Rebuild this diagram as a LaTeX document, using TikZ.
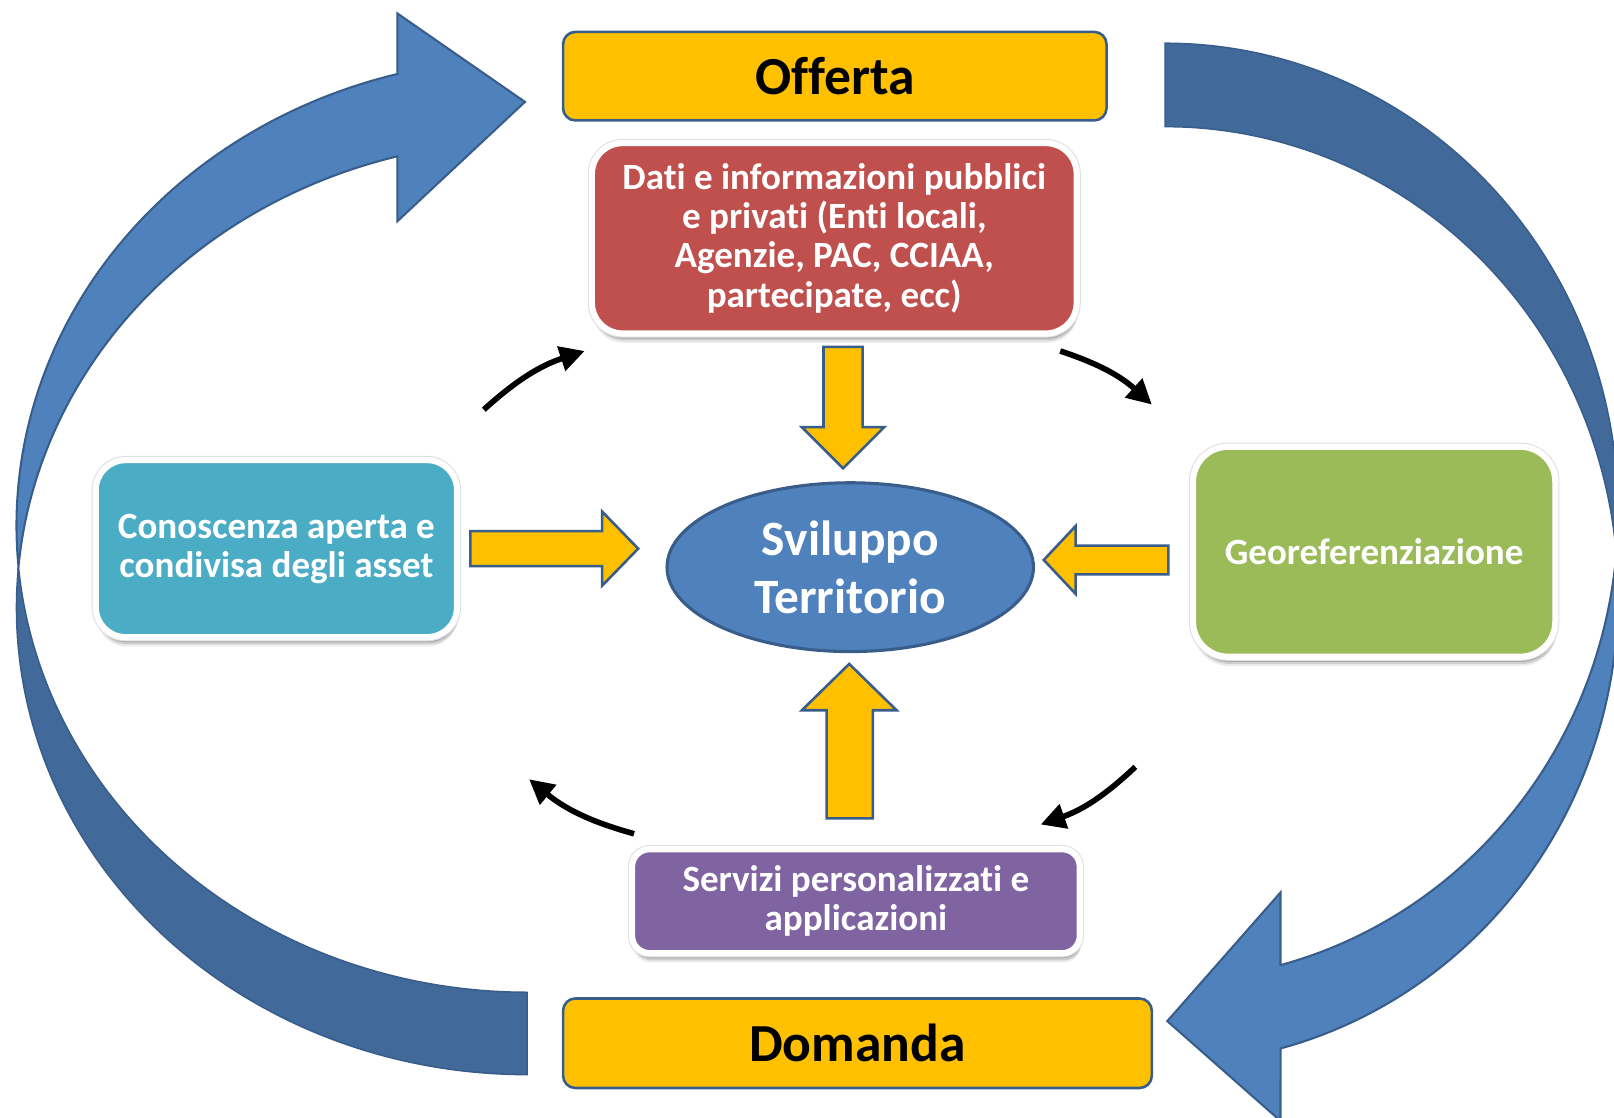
\documentclass[tikz,border=0pt]{standalone}
\usepackage{fontspec}
\setmainfont{Carlito}[Ligatures=NoCommon]
\usetikzlibrary{arrows.meta,shadows,shapes.geometric}
\definecolor{amber}{HTML}{FFC000}
\definecolor{bord}{HTML}{385D8A}
\definecolor{lightblue}{HTML}{4F81BD}
\definecolor{darkblue}{HTML}{41699A}
\definecolor{redbox}{HTML}{C0504D}
\definecolor{tealbox}{HTML}{4BACC6}
\definecolor{greenbox}{HTML}{9BBB59}
\definecolor{purplebox}{HTML}{8064A2}
\tikzset{
  titlebox/.style={draw=bord, line width=2.5pt, fill=amber, inner sep=0pt,
    font=\fontsize{52}{56}\selectfont\bfseries, text=black},
  softshadow/.style={
    drop shadow={shadow xshift=1pt, shadow yshift=-9pt, opacity=0.08, fill=black},
    drop shadow={shadow xshift=1.5pt, shadow yshift=-7pt, opacity=0.12, fill=black},
    drop shadow={shadow xshift=1pt, shadow yshift=-5pt, opacity=0.18, fill=black}},
  infobox/.style={draw=white, line width=6pt, inner sep=0pt, align=center, text=white,
    font=\fontsize{36}{38}\selectfont\bfseries, softshadow,
    preaction={draw=black!13, line width=8pt}},
  blockarrow/.style={fill=amber, draw=bord, line width=2.5pt},
  cyclearrow/.style={line width=5.5pt, -{Triangle[length=24pt,width=24pt]}},
  bandlight/.style={fill=lightblue, draw=bord, line width=2pt},
  banddark/.style={fill=darkblue, draw=bord, line width=1.5pt},
}
\begin{document}
\begin{tikzpicture}[x=1pt,y=-1pt]
\useasboundingbox (0,0) rectangle (1568,1086);
\clip (0,0) rectangle (1568,1086);

% ---- left big curved arrow (tail at bottom, head at top) ----
\path[banddark]
  plot[domain=90:185.06, samples=120, variable=\t] ({512+496*cos(\t)},{590.5+453.5*sin(\t)})
  -- plot[domain=174.94:90, samples=120, variable=\t] ({512+496*cos(\t)},{510.5+453.5*sin(\t)})
  -- cycle;
\path[bandlight]
  plot[domain=174.94:255.29, samples=120, variable=\t] ({512+496*cos(\t)},{510.5+453.5*sin(\t)})
  -- (386,13) -- (510,99) -- (386,215)
  -- plot[domain=255.29:185.06, samples=120, variable=\t] ({512+496*cos(\t)},{590.5+453.5*sin(\t)})
  -- cycle;

% ---- right big curved arrow (tail at top, head at bottom) ----
\path[banddark]
  plot[domain=-90:5.10, samples=120, variable=\t] ({1132+440*cos(\t)},{497.3+455.3*sin(\t)})
  -- plot[domain=-5.10:-90, samples=120, variable=\t] ({1132+440*cos(\t)},{578.3+455.3*sin(\t)})
  -- cycle;
\path[bandlight]
  plot[domain=-5.10:75.25, samples=120, variable=\t] ({1132+440*cos(\t)},{578.3+455.3*sin(\t)})
  -- (1244,1089) -- (1134,992) -- (1244,867)
  -- plot[domain=75.25:5.10, samples=120, variable=\t] ({1132+440*cos(\t)},{497.3+455.3*sin(\t)})
  -- cycle;

% ---- title boxes ----
\node[titlebox, minimum width=528pt, minimum height=86pt, rounded corners=12pt] (offerta) at (811,74) {Offerta};
\node[titlebox, minimum width=572pt, minimum height=87pt, rounded corners=12pt] (domanda) at (833,1013.5) {Domanda};

% ---- info boxes ----
\node[infobox, fill=redbox, minimum width=471pt, minimum height=185pt, rounded corners=30pt] (dati) at (810.5,231.5)
  {Dati e informazioni pubblici\\e privati (Enti locali,\\Agenzie, PAC, CCIAA,\\partecipate, ecc)};
\node[infobox, fill=tealbox, minimum width=351pt, minimum height=172pt, rounded corners=29pt] (conoscenza) at (268.5,533)
  {Conoscenza aperta e\\condivisa degli asset};
\node[infobox, fill=greenbox, minimum width=352pt, minimum height=204pt, rounded corners=34pt] (geo) at (1335,536)
  {Georeferenziazione};
\node[infobox, fill=purplebox, minimum width=435pt, minimum height=101pt, rounded corners=17pt] (servizi) at (831.5,875.5)
  {Servizi personalizzati e\\applicazioni};

% ---- centre ellipse ----
\node[ellipse, draw=bord, line width=3pt, fill=lightblue, minimum width=356pt, minimum height=164pt,
  inner sep=0pt, align=center, text=white, font=\fontsize{48}{56}\selectfont\bfseries] (svil) at (826,551)
  {Sviluppo\\Territorio};

% ---- yellow block arrows ----
\path[blockarrow] (800,337) -- (838,337) -- (838,415) -- (859,415) -- (819,455) -- (779,415) -- (800,415) -- cycle;
\path[blockarrow] (457,516) -- (585,516) -- (585,497) -- (620,533) -- (585,569) -- (585,550) -- (457,550) -- cycle;
\path[blockarrow] (1135,530) -- (1045,530) -- (1045,511) -- (1014,544) -- (1045,577) -- (1045,558) -- (1135,558) -- cycle;
\path[blockarrow] (803,795) -- (803,690) -- (779,690) -- (825,645) -- (871,690) -- (848,690) -- (848,795) -- cycle;

% ---- small black cycle arrows ----
\coordinate (c1s) at (470,398); \coordinate (c1e) at (568,341);
\coordinate (c2s) at (1030,341); \coordinate (c2e) at (1119,393);
\coordinate (c3s) at (1103,745); \coordinate (c3e) at (1011,801);
\coordinate (c4s) at (616,810); \coordinate (c4e) at (514,757);
\draw[cyclearrow] (c1s) to[bend left=12] (c1e);
\draw[cyclearrow] (c2s) to[bend left=12] (c2e);
\draw[cyclearrow] (c3s) to[bend left=12] (c3e);
\draw[cyclearrow] (c4s) to[bend left=12] (c4e);
\end{tikzpicture}
\end{document}
